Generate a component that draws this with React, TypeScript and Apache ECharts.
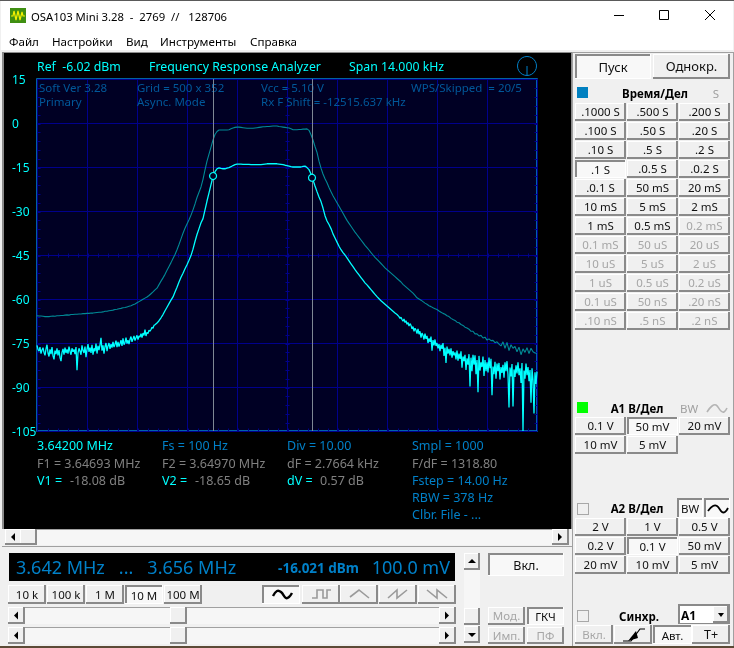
import React, { useEffect, useRef } from "react";
import * as echarts from "echarts";

// ---- sampling of the traces, Hz (span 14.000 kHz over 500 grid units)
const FINE_STEP_HZ = 28;
const COARSE_STEP_HZ = 56;
const SPAN_HZ = 14000;
const DIV_HZ = 1400;
const MID_START_HZ = 3360;
const RIGHT_START_HZ = 10136;
const MARKER_F1_HZ = 4930;
const MARKER_F2_HZ = 7700;
const MARKER_V1_DB = -18.08;
const MARKER_V2_DB = -18.65;

// ---- bright trace, dB: noise floor on the left, one value per grid unit
const primaryLeftDb = [
  -75.8,-77.2,-77.8,-76.4,-78.6,-77.4,-76.6,-78.2,-79.2,-77.0,
  -75.6,-78.4,-79.6,-77.2,-78.8,-76.4,-79.4,-80.6,-77.6,-78.8,
  -76.8,-79.2,-77.4,-80.0,-81.2,-78.2,-77.0,-79.0,-76.6,-78.4,
  -77.2,-78.6,-76.2,-77.8,-79.0,-76.8,-78.0,-77.2,-78.8,-76.4,
  -84.3,-78.4,-76.8,-77.8,-79.0,-75.8,-77.6,-78.4,-76.2,-79.8,
  -77.2,-75.4,-78.0,-76.6,-78.4,-75.6,-79.0,-76.8,-77.8,-75.2,
  -78.6,-76.0,-77.4,-75.6,-73.2,-77.6,-75.8,-78.6,-76.2,-75.0,
  -77.8,-76.0,-75.0,-77.0,-75.4,-76.6,-74.6,-76.4,-75.4,-74.2,
  -76.4,-74.6,-76.2,-75.2,-74.0,-76.0,-73.4,-75.6,-74.8,-73.2,
  -75.2,-74.0,-75.4,-73.8,-72.8,-74.6,-73.6,-72.6,-74.2,-73.2,
  -72.4,-73.8,-72.6,-73.0,-71.8,-73.2,-71.6,-72.4,-70.4,-72.6,
  -71.4,-71.8,-70.6,-71.0,-70.4,-69.6,-70.0,-69.0,-68.8,
];

// ---- bright trace, dB: skirts and pass band, one value per two grid units
const primaryMidDb = [
  -68.2,-67.4,-66.4,-65.3,-64.0,-62.8,-61.6,-60.4,-59.3,-57.6,
  -56.0,-54.2,-52.6,-51.2,-49.7,-48.3,-46.8,-45.2,-43.0,-40.4,
  -38.0,-36.0,-34.0,-32.6,-29.6,-26.6,-23.8,-21.0,-18.3,-16.6,
  -15.6,-15.3,-15.5,-15.6,-15.6,-15.4,-15.2,-14.9,-14.5,-14.2,
  -14.0,-14.0,-14.0,-14.1,-14.1,-14.1,-14.1,-14.2,-14.2,-14.2,
  -14.2,-14.2,-14.2,-14.1,-14.0,-13.9,-13.9,-13.9,-13.9,-13.9,
  -13.9,-14.0,-14.1,-14.2,-14.4,-14.5,-14.7,-14.9,-15.0,-15.0,
  -15.0,-15.0,-15.0,-14.8,-14.7,-15.2,-15.9,-17.4,-19.4,-21.5,
  -23.4,-25.2,-26.8,-29.0,-31.6,-33.4,-34.6,-36.0,-37.8,-39.2,
  -40.6,-42.0,-43.2,-44.2,-45.0,-46.0,-47.0,-48.0,-49.0,-50.0,
  -50.9,-51.8,-52.7,-53.6,-54.5,-55.2,-56.0,-56.8,-57.6,-58.4,
  -59.2,-59.9,-60.6,-61.2,-61.8,-62.4,-63.0,-63.6,-64.2,-64.8,
  -65.3,
];

// ---- bright trace, dB: noise on the right, one value per grid unit
const primaryRightDb = [
  -66.0,-66.6,-66.2,-67.0,-67.6,-66.8,-68.0,-67.4,-68.6,-68.0,
  -69.2,-68.4,-69.0,-70.2,-69.4,-71.0,-70.0,-70.6,-71.8,-70.2,
  -72.0,-71.0,-73.2,-71.6,-72.4,-73.8,-71.8,-73.6,-72.6,-75.0,
  -73.4,-74.6,-72.8,-77.6,-74.0,-75.8,-73.8,-76.0,-75.0,-76.8,
  -75.4,-77.8,-75.6,-77.0,-75.0,-79.4,-76.6,-81.8,-76.2,-78.6,
  -77.0,-79.2,-76.8,-80.0,-77.8,-79.2,-78.2,-80.6,-77.6,-81.0,
  -78.6,-80.4,-77.8,-83.4,-79.6,-81.2,-79.0,-84.2,-80.2,-82.4,
  -78.8,-89.8,-80.0,-84.6,-79.0,-82.4,-79.2,-85.6,-80.8,-91.8,
  -79.4,-84.4,-81.6,-83.2,-79.6,-86.2,-80.8,-84.6,-81.6,-85.0,
  -80.0,-83.6,-80.4,-92.8,-83.0,-85.6,-81.4,-87.2,-82.0,-84.6,
  -81.8,-87.4,-83.2,-85.2,-82.4,-86.8,-81.6,-84.6,-81.2,-85.8,
  -97.0,-83.4,-86.4,-82.2,-96.6,-84.0,-86.6,-82.6,-85.4,-81.6,
  -86.0,-83.6,-88.6,-81.8,-105.0,-84.4,-87.2,-82.0,-86.0,-83.2,
  -88.0,-84.2,-95.4,-83.6,-87.6,-99.0,-85.0,-89.0,-84.8,
];

// ---- dim trace, dB
const secondaryDb = [
  -65.7,-65.8,-65.8,-65.9,-66.0,-66.0,-66.0,-65.9,-65.8,-65.9,
  -65.7,-65.7,-65.6,-65.6,-65.5,-65.4,-65.5,-65.3,-65.3,-65.2,
  -65.2,-65.1,-65.1,-65.0,-65.0,-64.9,-64.9,-64.8,-64.8,-64.7,
  -64.6,-64.5,-64.5,-64.4,-64.2,-64.2,-64.0,-63.9,-63.8,-63.6,
  -63.5,-63.3,-63.2,-63.0,-62.9,-62.7,-62.5,-62.3,-62.0,-61.7,
  -61.3,-60.9,-60.5,-60.1,-59.7,-59.3,-58.8,-58.2,-57.6,-56.9,
  -56.3,-55.1,-53.9,-52.8,-51.6,-50.2,-48.9,-47.6,-46.2,-44.8,
  -43.2,-41.4,-39.5,-37.6,-35.9,-34.4,-33.0,-31.4,-29.6,-27.6,
  -25.4,-23.6,-21.8,-19.2,-16.0,-13.0,-10.6,-8.2,-5.8,-3.9,
  -2.9,-2.4,-2.4,-2.4,-2.4,-2.4,-2.3,-2.0,-1.7,-1.5,
  -1.4,-1.4,-1.5,-1.6,-1.7,-1.8,-1.8,-1.8,-1.8,-1.7,
  -1.6,-1.5,-1.4,-1.3,-1.3,-1.2,-1.2,-1.1,-1.0,-1.0,
  -1.0,-1.2,-1.3,-1.4,-1.5,-1.6,-1.7,-2.0,-2.3,-2.3,
  -2.3,-2.2,-2.2,-2.1,-2.1,-2.0,-2.5,-4.0,-5.8,-8.0,
  -10.0,-13.0,-15.4,-17.4,-19.0,-20.4,-22.0,-23.4,-24.8,-26.0,
  -27.2,-28.4,-29.6,-30.8,-32.0,-33.2,-34.2,-35.2,-36.2,-37.2,
  -38.1,-39.0,-39.9,-40.8,-41.7,-42.5,-43.3,-44.2,-45.0,-45.8,
  -46.5,-47.2,-47.9,-48.6,-49.4,-50.0,-50.6,-51.2,-51.8,-52.4,
  -53.0,-53.6,-54.2,-55.0,-55.6,-56.2,-56.8,-57.4,-58.0,-58.8,
  -59.6,-60.0,-60.4,-60.9,-61.4,-61.8,-62.3,-62.6,-63.0,-63.3,
  -63.6,-64.1,-64.5,-64.9,-65.2,-65.7,-66.0,-66.6,-67.0,-67.3,
  -67.9,-68.1,-68.7,-69.0,-69.6,-69.9,-70.3,-71.0,-71.0,-71.9,
  -71.9,-72.6,-72.4,-73.3,-73.0,-74.0,-73.6,-74.2,-74.1,-74.9,
  -74.6,-75.4,-76.0,-74.6,-76.8,-74.8,-77.6,-75.6,-76.8,-76.2,
  -78.0,-76.4,-79.0,-77.0,-78.2,-76.6,-78.6,-76.8,-78.0,-78.4,
  -78.6,
];

// ---- texts
const titleText = "OSA103 Mini 3.28  -  2769  //   128706";
const menuItems = ["Файл", "Настройки", "Вид", "Инструменты", "Справка"];
const headerTexts = ["Ref  -6.02 dBm", "Frequency Response Analyzer", "Span 14.000 kHz"];
const infoColumns = [
  ["Soft Ver 3.28", "Primary"],
  ["Grid = 500 x 352", "Async. Mode"],
  ["Vcc = 5.10 V", "Rx F Shift = -12515.637 kHz"],
  ["WPS/Skipped  = 20/5"],
];
const readoutRow1 = ["3.64200 MHz", "Fs = 100 Hz", "Div = 10.00", "Smpl = 1000"];
const readoutRow2 = ["F1 = 3.64693 MHz", "F2 = 3.64970 MHz", "dF = 2.7664 kHz", "F/dF = 1318.80"];
const readoutNames = ["V1 = ", "V2 = ", "dV = "];
const readoutValues = ["-18.08 dB", "-18.65 dB", "0.57 dB"];
const readoutExtra = ["Fstep = 14.00 Hz", "RBW = 378 Hz", "Clbr. File - ..."];
const rangeButtons = ["10 k", "100 k", "1 M", "10 M", "100 M"];
const timeButtons = [
  [".1000 S", ".500 S", ".200 S"],
  [".100 S", ".50 S", ".20 S"],
  [".10 S", ".5 S", ".2 S"],
  [".1 S", ".0.5 S", ".0.2 S"],
  [".0.1 S", "50 mS", "20 mS"],
  ["10 mS", "5 mS", "2 mS"],
  ["1 mS", "0.5 mS", "0.2 mS"],
  ["0.1 mS", "50 uS", "20 uS"],
  ["10 uS", "5 uS", "2 uS"],
  ["1 uS", "0.5 uS", "0.2 uS"],
  ["0.1 uS", "50 nS", ".20 nS"],
  [".10 nS", ".5 nS", ".2 nS"],
];
const a1Buttons = [["0.1 V", "50 mV", "20 mV"], ["10 mV", "5 mV"]];
const a2Buttons = [["2 V", "1 V", "0.5 V"], ["0.2 V", "0.1 V", "50 mV"], ["20 mV", "10 mV", "5 mV"]];

const UI = "Noto Sans";
const SCOPE = "Noto Sans";
const CYAN = "#00ffff";
const BLUE = "#0080c8";
const GRAY = "#808080";
const DIM = "#00589a";
const GRIDC = "#00008c";
const FACE = "#f0f0f0";
const SHADOW = "#8a8a8a";
const Z = -5;

type El = any;
const rect = (x: number, y: number, w: number, h: number, fill: string, z = Z): El => ({
  type: "rect", z, silent: true, shape: { x, y, width: w, height: h }, style: { fill },
});
const txt = (text: string, x: number, y: number, fill: string, size = 12, o: any = {}): El => ({
  type: "text", z: o.z ?? Z + 1, silent: true, x, y,
  style: {
    text, fill,
    fontSize: size, fontFamily: o.family ?? UI, fontWeight: o.weight ?? "normal",
    textAlign: o.align ?? "left", textVerticalAlign: "middle",
    align: o.align ?? "left", verticalAlign: "middle",
  },
});
const poly = (points: number[][], stroke: string, lineWidth = 1, smooth = 0, z = Z + 1): El => ({
  type: "polyline", z, silent: true, shape: { points, smooth }, style: { stroke, lineWidth, fill: "none" },
});
const tri = (points: number[][], fill: string): El => ({
  type: "polygon", z: Z + 1, silent: true, shape: { points }, style: { fill },
});

function button(label: string, x: number, y: number, w: number, h: number, o: any = {}): El[] {
  const sunken = !!o.sunken;
  const out: El[] = [rect(x, y, w, h, sunken ? "#f8f8f8" : FACE)];
  if (sunken) {
    out.push(rect(x, y, w, 2, SHADOW), rect(x, y, 2, h, SHADOW));
    out.push(rect(x, y + h - 1, w, 1, "#ffffff"), rect(x + w - 1, y, 1, h, "#ffffff"));
  } else {
    out.push(rect(x, y, w, 1, "#ffffff"), rect(x, y, 1, h, "#ffffff"));
    out.push(rect(x, y + h - 2, w, 2, SHADOW), rect(x + w - 2, y, 2, h, SHADOW));
  }
  if (label) {
    out.push(
      txt(label, x + w / 2, y + h / 2 + (sunken ? 0.5 : -0.5), o.disabled ? "#a6a6a6" : "#101010", o.size ?? 11.5, {
        align: "center",
      }),
    );
  }
  return out;
}

function hScroll(x: number, y: number, w: number, h: number, thumbX: number): El[] {
  const mid = y + h / 2;
  return [
    rect(x, y, w, h, "#f6f6f6"),
    rect(x, y, w, 1, "#a0a0a0"),
    ...button("", x, y, 17, h),
    tri([[x + 6, mid], [x + 10, mid - 4], [x + 10, mid + 4]], "#000000"),
    ...button("", thumbX, y, 17, h),
    ...button("", x + w - 17, y, 17, h),
    tri([[x + w - 7, mid], [x + w - 11, mid - 4], [x + w - 11, mid + 4]], "#000000"),
  ];
}

function chrome(): El[] {
  const e: El[] = [];
  // window
  e.push(rect(0, 0, 734, 648, FACE, Z - 2));
  e.push(rect(0, 0, 734, 1, "#5a5a5a"));
  e.push(rect(1, 1, 732, 49, "#ffffff"));
  e.push(rect(0, 646, 734, 2, "#5c4a36"));
  // icon and title
  e.push(rect(10, 8, 16, 15, "#3f8f12"));
  e.push(poly([[11, 16], [13, 16], [14, 11], [16, 20], [18, 11], [20, 20], [22, 12], [23, 16], [25, 16]], "#f4f000", 1.2));
  e.push(txt(titleText, 31, 16, "#000000", 11.3));
  e.push(rect(614, 15, 10, 1, "#000000"));
  e.push({ type: "rect", z: Z + 1, silent: true, shape: { x: 659.5, y: 10.5, width: 9, height: 9 }, style: { fill: "none", stroke: "#000000", lineWidth: 1 } });
  e.push(poly([[705, 10], [715, 20]], "#000000"), poly([[715, 10], [705, 20]], "#000000"));
  // menu
  const menuX = [9, 52, 126, 160, 250];
  menuItems.forEach((m, i) => e.push(txt(m, menuX[i], 41, "#000000", 11.6)));
  // scope panel
  e.push(rect(2, 52, 570, 477, "#8c8c8c", Z - 1));
  e.push(rect(4, 53, 567, 476, "#000000"));
  const headX = [37, 149, 349];
  headerTexts.forEach((t, i) => e.push(txt(t, headX[i], 66, CYAN, 12.3, { family: SCOPE })));
  e.push({ type: "circle", z: Z + 1, silent: true, shape: { cx: 527, cy: 66, r: 9.5 }, style: { fill: "none", stroke: BLUE, lineWidth: 1 } });
  e.push(poly([[527, 66], [527, 75]], BLUE));
  // info inside the plot
  const infoX = [39, 137, 261, 411];
  infoColumns.forEach((col, c) =>
    col.forEach((t, r) => e.push(txt(t, infoX[c], 87 + r * 14, DIM, 11.5, { family: SCOPE, z: 5 }))),
  );
  // readouts
  const colX = [37, 162, 287, 412];
  readoutRow1.forEach((t, i) => e.push(txt(t, colX[i], 445, i === 0 ? CYAN : BLUE, 12.5, { family: SCOPE })));
  readoutRow2.forEach((t, i) => e.push(txt(t, colX[i], 463, GRAY, 12.5, { family: SCOPE })));
  readoutNames.forEach((t, i) => {
    e.push(txt(t, colX[i], 480, CYAN, 12.5, { family: SCOPE }));
    e.push(txt(readoutValues[i], colX[i] + 33, 480, GRAY, 12.5, { family: SCOPE }));
  });
  readoutExtra.forEach((t, i) => e.push(txt(t, colX[3], 480 + i * 17, BLUE, 12.5, { family: SCOPE })));
  // scope scroll bar
  e.push(...hScroll(5, 529, 564, 16, 20));
  // lower panel
  e.push(rect(2, 546, 570, 1, "#a0a0a0"));
  e.push(rect(9, 553, 446, 28, "#000000"));
  e.push(txt("3.642 MHz   ...   3.656 MHz", 16, 567, BLUE, 18));
  e.push(txt("-16.021 dBm", 359, 568, BLUE, 13.5, { align: "right", weight: "bold" }));
  e.push(txt("100.0 mV", 450, 567, BLUE, 18, { align: "right" }));
  const rangeX = [8, 47, 86, 125, 164];
  rangeButtons.forEach((b, i) => e.push(...button(b, rangeX[i], 585, 38, 19, { sunken: i === 3 })));
  const waveX = [262, 302, 340, 379, 418];
  waveX.forEach((x, i) => e.push(...button("", x, 585, 38, 19, { sunken: i === 0 })));
  e.push(poly([[273, 596], [277, 591], [281, 592], [286, 598], [289, 597], [292, 593]], "#000000", 2.4, 0.4));
  const g = "#9a9a9a";
  e.push(poly([[312, 598], [317, 598], [317, 590], [323, 590], [323, 598], [327, 598], [327, 590], [331, 590]], g, 1.6));
  e.push(poly([[350, 597], [359, 590], [369, 598]], g, 1.6));
  e.push(poly([[388, 598], [397, 590], [397, 598], [407, 590]], g, 1.6));
  e.push(poly([[427, 590], [437, 598], [437, 590], [447, 598]], g, 1.6));
  e.push(...hScroll(8, 607, 448, 17, 170));
  e.push(...hScroll(8, 627, 448, 17, 170));
  // vertical scroll
  e.push(rect(464, 553, 16, 90, "#f6f6f6"));
  e.push(...button("", 464, 553, 16, 17));
  e.push(tri([[472, 559], [468, 563], [476, 563]], "#000000"));
  e.push(...button("", 464, 608, 16, 17));
  e.push(...button("", 464, 626, 16, 17));
  e.push(tri([[472, 637], [468, 633], [476, 633]], "#000000"));
  // right lower buttons
  e.push(...button("Вкл.", 488, 553, 76, 23, { sunken: true, size: 12.5 }));
  e.push(...button("Мод.", 488, 607, 37, 18, { disabled: true }));
  e.push(...button("ГКЧ", 527, 607, 37, 18, { sunken: true }));
  e.push(...button("Имп.", 488, 627, 37, 17, { disabled: true }));
  e.push(...button("ПФ", 527, 627, 37, 17, { disabled: true }));
  // right panel
  e.push(rect(572, 52, 1, 594, "#a0a0a0"));
  e.push(rect(572, 52, 162, 1, "#a0a0a0"));
  e.push(rect(733, 52, 1, 594, "#a0a0a0"));
  e.push(...button("Пуск", 575, 54, 76, 25, { sunken: true, size: 13 }));
  e.push(...button("Однокр.", 653, 54, 77, 25, { size: 13 }));
  e.push(rect(577, 87, 11, 11, "#0080c0"));
  e.push(txt("Время/Дел", 655, 93, "#000000", 11.5, { align: "center", weight: "bold" }));
  e.push(txt("S", 716, 93, "#a0a0a0", 11.5, { align: "center" }));
  const cols = [575, 627, 679];
  const colW = 51;
  timeButtons.forEach((row, r) =>
    row.forEach((b, c) =>
      e.push(
        ...button(b, cols[c], 103 + r * 19, colW, 18, {
          sunken: r === 3 && c === 0,
          disabled: r > 6 || (r === 6 && c === 2),
        }),
      ),
    ),
  );
  // A1
  e.push(rect(577, 402, 11, 11, "#00ff00"));
  e.push(txt("A1 В/Дел", 637, 408, "#000000", 11.5, { align: "center", weight: "bold" }));
  e.push(txt("BW", 689, 408, "#a0a0a0", 11.5, { align: "center" }));
  e.push(poly([[707, 412], [712, 406], [716, 405], [721, 411], [724, 412], [727, 408]], "#b4b4b4", 1.6, 0.4));
  a1Buttons.forEach((row, r) =>
    row.forEach((b, c) => e.push(...button(b, cols[c], 417 + r * 19, colW, 18, { sunken: r === 0 && c === 1 }))),
  );
  // A2
  e.push(rect(577, 503, 12, 12, "#a8a8a8"), rect(578, 504, 10, 10, FACE));
  e.push(txt("A2 В/Дел", 637, 508, "#000000", 11.5, { align: "center", weight: "bold" }));
  e.push(...button("BW", 677, 498, 26, 20, { sunken: true }));
  e.push(...button("", 704, 498, 26, 20, { sunken: true }));
  e.push(poly([[708, 511], [713, 506], [717, 506], [722, 512], [725, 512], [728, 508]], "#000000", 1.8, 0.4));
  a2Buttons.forEach((row, r) =>
    row.forEach((b, c) => e.push(...button(b, cols[c], 518 + r * 19, colW, 18, { sunken: r === 1 && c === 1 }))),
  );
  // sync
  e.push(rect(577, 610, 12, 12, "#a8a8a8"), rect(578, 611, 10, 10, FACE));
  e.push(txt("Синхр.", 639, 616, "#000000", 11.5, { align: "center", weight: "bold" }));
  e.push(rect(678, 604, 52, 20, "#8a8a8a"), rect(680, 606, 49, 17, "#ffffff"));
  e.push(txt("A1", 681, 615, "#000000", 12, { weight: "bold" }));
  e.push(...button("", 713, 606, 16, 17));
  e.push(tri([[718, 613], [724, 613], [721, 617]], "#000000"));
  e.push(...button("Вкл.", 575, 625, 38, 19, { disabled: true }));
  e.push(...button("", 614, 625, 38, 19));
  e.push(poly([[623, 641], [631, 641], [640, 629], [645, 629]], "#000000", 1.2));
  e.push(tri([[628, 641], [636, 631], [638, 638]], "#000000"));
  e.push(...button("Авт.", 653, 625, 39, 19, { sunken: true }));
  e.push(...button("T+", 692, 625, 38, 19, { size: 12.5 }));
  return e;
}

// short inner tick marks of the scope graticule (decoration, no data)
function graticuleTicks(): El[] {
  const e: El[] = [];
  const L = 37.5, T = 79.5, W = 500, H = 352;
  const line = (x1: number, y1: number, x2: number, y2: number) =>
    e.push({ type: "line", z: 1, silent: true, shape: { x1, y1, x2, y2 }, style: { stroke: GRIDC, lineWidth: 1 } });
  for (let i = 1; i < 50; i++) {
    const x = Math.round(L + (i * W) / 50) + 0.5;
    line(x, T + H / 2 - 2, x, T + H / 2 + 2);
    line(x, T + H - 3, x, T + H);
  }
  for (let i = 1; i < 40; i++) {
    const y = Math.round(T + (i * H) / 40) + 0.5;
    line(L + W / 2 - 2, y, L + W / 2 + 2, y);
    line(L, y, L + 3, y);
    line(L + W - 3, y, L + W, y);
  }
  return e;
}

const pairs = (values: number[], start: number, step: number) => values.map((v, i) => [start + i * step, v]);

export default function App() {
  const ref = useRef<HTMLDivElement>(null);
  useEffect(() => {
    if (!ref.current) return;
    const chart = echarts.init(ref.current, undefined, { renderer: "svg" });
    chart.setOption({
      animation: false,
      grid: {
        left: 37, top: 79, width: 500, height: 352, show: true,
        backgroundColor: "#000024", borderColor: "#0082d8", borderWidth: 1.5,
      },
      xAxis: {
        type: "value", min: 0, max: SPAN_HZ, interval: DIV_HZ,
        axisLabel: { show: false }, axisTick: { show: false }, axisLine: { show: false },
        splitLine: { show: true, lineStyle: { color: GRIDC, width: 1 } },
      },
      yAxis: {
        type: "value", min: -105, max: 15, interval: 15,
        axisTick: { show: false }, axisLine: { show: false },
        axisLabel: { color: CYAN, fontSize: 12, fontFamily: SCOPE, align: "left", margin: 25 },
        splitLine: { show: true, lineStyle: { color: GRIDC, width: 1 } },
      },
      graphic: { elements: [...chrome(), ...graticuleTicks()] },
      series: [
        {
          name: "Secondary", type: "line", data: pairs(secondaryDb, 0, COARSE_STEP_HZ),
          showSymbol: false, silent: true, z: 2,
          lineStyle: { color: "#008a96", width: 1.1 },
        },
        {
          name: "Primary", type: "line",
          data: [
            ...pairs(primaryLeftDb, 0, FINE_STEP_HZ),
            ...pairs(primaryMidDb, MID_START_HZ, COARSE_STEP_HZ),
            ...pairs(primaryRightDb, RIGHT_START_HZ, FINE_STEP_HZ),
          ],
          showSymbol: false, silent: true, z: 3,
          lineStyle: { color: CYAN, width: 1.3 },
          markLine: {
            silent: true, symbol: "none", animation: false,
            label: { show: false },
            lineStyle: { color: "#7e8794", width: 1, type: "solid" },
            data: [{ xAxis: MARKER_F1_HZ }, { xAxis: MARKER_F2_HZ }],
          },
          markPoint: {
            silent: true, symbol: "circle", symbolSize: 7, animation: false,
            label: { show: false },
            itemStyle: { color: "#000024", borderColor: CYAN, borderWidth: 1.2 },
            data: [
              { coord: [MARKER_F1_HZ, MARKER_V1_DB] },
              { coord: [MARKER_F2_HZ, MARKER_V2_DB] },
            ],
          },
        },
      ],
    });
    return () => chart.dispose();
  }, []);
  return <div ref={ref} style={{ position: "fixed", left: 0, top: 0, width: 734, height: 648 }} />;
}
